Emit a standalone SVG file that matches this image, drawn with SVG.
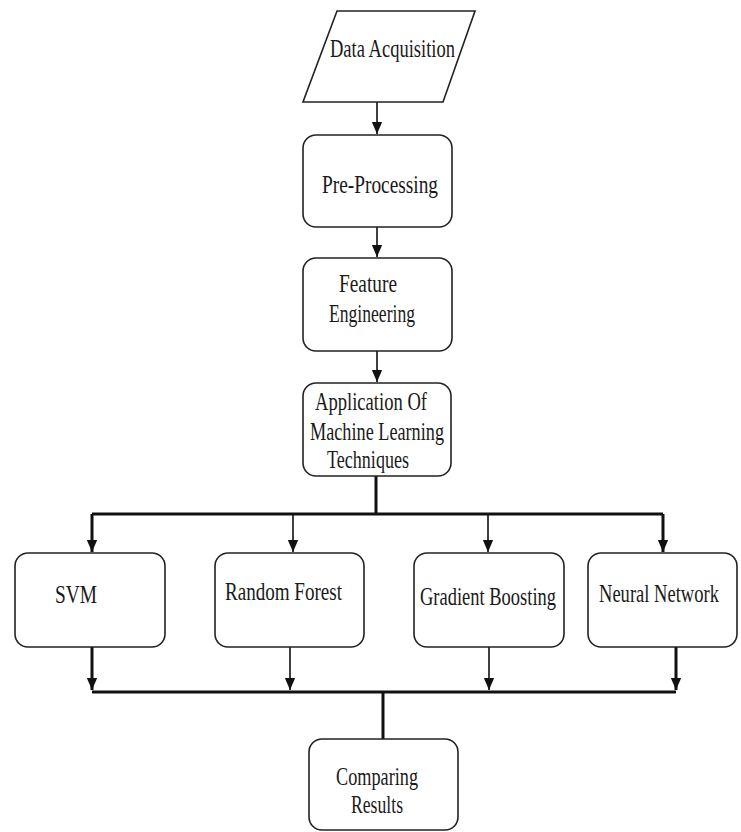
<svg xmlns="http://www.w3.org/2000/svg" width="741" height="832" viewBox="0 0 741 832">
  <style>
    .box { fill: #ffffff; stroke: #222222; stroke-width: 1.6; }
    .lbl { font-family: "Liberation Serif", "Times New Roman", "DejaVu Serif", serif; font-size: 25px; fill: #1a1a1a; text-anchor: start; }
    .thin { stroke: #111111; stroke-width: 1.6; fill: none; }
    .thick { stroke: #111111; stroke-width: 3; fill: none; }
  </style>
  <defs>
    <marker id="down" markerUnits="userSpaceOnUse" markerWidth="12" markerHeight="14" refX="14" refY="6" orient="auto" viewBox="0 0 14 12">
      <path d="M0,0 L14,6 L0,12 Z" fill="#111111"/>
    </marker>
  </defs>

  <rect width="741" height="832" fill="#ffffff"/>

  <!-- connectors -->
  <g id="connectors">
    <line class="thin" x1="377" y1="102" x2="377" y2="134" marker-end="url(#down)"/>
    <line class="thin" x1="377" y1="227" x2="377" y2="257" marker-end="url(#down)"/>
    <line class="thin" x1="377" y1="351" x2="377" y2="382" marker-end="url(#down)"/>
    <!-- split bus -->
    <line class="thick" x1="376" y1="476" x2="376" y2="514"/>
    <line class="thick" x1="92" y1="514" x2="663" y2="514"/>
    <line class="thick" x1="92" y1="514" x2="92" y2="552" marker-end="url(#down)"/>
    <line class="thin" x1="293" y1="514" x2="293" y2="552" marker-end="url(#down)"/>
    <line class="thin" x1="488" y1="514" x2="488" y2="552" marker-end="url(#down)"/>
    <line class="thick" x1="663" y1="514" x2="663" y2="552" marker-end="url(#down)"/>
    <!-- merge bus -->
    <line class="thick" x1="92" y1="647" x2="92" y2="690" marker-end="url(#down)"/>
    <line class="thin" x1="290" y1="647" x2="290" y2="690" marker-end="url(#down)"/>
    <line class="thin" x1="489" y1="647" x2="489" y2="690" marker-end="url(#down)"/>
    <line class="thick" x1="676" y1="647" x2="676" y2="690" marker-end="url(#down)"/>
    <line class="thick" x1="92" y1="692" x2="676" y2="692"/>
    <line class="thick" x1="383" y1="692" x2="383" y2="739"/>
  </g>

  <g id="data-acquisition">
    <polygon class="box" points="337,11 475,11 443,102 303,102"/>
    <text class="lbl" x="330" y="57" textLength="125" lengthAdjust="spacingAndGlyphs">Data Acquisition</text>
  </g>

  <g id="pre-processing">
    <rect class="box" x="303" y="135" width="149" height="92" rx="13"/>
    <text class="lbl" x="322" y="193" textLength="116" lengthAdjust="spacingAndGlyphs">Pre-Processing</text>
  </g>

  <g id="feature-engineering">
    <rect class="box" x="303" y="258" width="149" height="93" rx="13"/>
    <text class="lbl" x="339" y="292" textLength="58" lengthAdjust="spacingAndGlyphs">Feature</text>
    <text class="lbl" x="329" y="322" textLength="86" lengthAdjust="spacingAndGlyphs">Engineering</text>
  </g>

  <g id="ml-techniques">
    <rect class="box" x="303" y="383" width="148" height="93" rx="13"/>
    <text class="lbl" x="315" y="410" textLength="112" lengthAdjust="spacingAndGlyphs">Application Of</text>
    <text class="lbl" x="310" y="440" textLength="134" lengthAdjust="spacingAndGlyphs">Machine Learning</text>
    <text class="lbl" x="327" y="468" textLength="82" lengthAdjust="spacingAndGlyphs">Techniques</text>
  </g>

  <g id="svm">
    <rect class="box" x="15" y="553" width="150" height="94" rx="13"/>
    <text class="lbl" x="55" y="603" textLength="42" lengthAdjust="spacingAndGlyphs">SVM</text>
  </g>

  <g id="random-forest">
    <rect class="box" x="215" y="553" width="149" height="94" rx="13"/>
    <text class="lbl" x="225" y="600" textLength="117" lengthAdjust="spacingAndGlyphs">Random Forest</text>
  </g>

  <g id="gradient-boosting">
    <rect class="box" x="414" y="553" width="150" height="94" rx="13"/>
    <text class="lbl" x="420" y="605" textLength="136" lengthAdjust="spacingAndGlyphs">Gradient Boosting</text>
  </g>

  <g id="neural-network">
    <rect class="box" x="588" y="553" width="149" height="94" rx="13"/>
    <!-- horizontally condensed label -->
    <text class="lbl" transform="translate(599,602) scale(0.742,1)" x="0" y="0">Neural Network</text>
  </g>

  <g id="comparing-results">
    <rect class="box" x="309" y="739" width="149" height="91" rx="13"/>
    <text class="lbl" x="336" y="785" textLength="82" lengthAdjust="spacingAndGlyphs">Comparing</text>
    <text class="lbl" x="351" y="813" textLength="52" lengthAdjust="spacingAndGlyphs">Results</text>
  </g>
</svg>
